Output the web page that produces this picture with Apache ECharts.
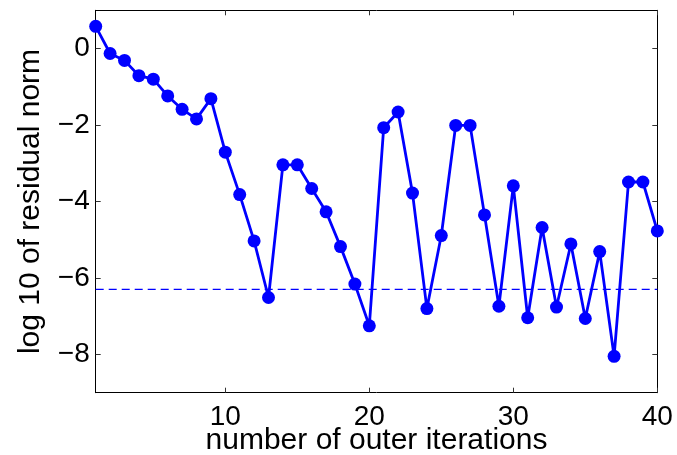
<!DOCTYPE html>
<html>
<head>
<meta charset="utf-8">
<script src="https://cdn.jsdelivr.net/npm/echarts@6/dist/echarts.min.js"></script>
<style>html,body{margin:0;padding:0;background:#fff;}#c{width:677px;height:455px;}</style>
</head>
<body>
<div id="c"></div>
<script>
const iterations = [1,2,3,4,5,6,7,8,9,10,11,12,13,14,15,16,17,18,19,20,21,22,23,24,25,26,27,28,29,30,31,32,33,34,35,36,37,38,39,40];
const logResidual = [0.58,-0.13,-0.31,-0.71,-0.80,-1.24,-1.59,-1.84,-1.31,-2.71,-3.82,-5.03,-6.51,-3.04,-3.04,-3.66,-4.27,-5.18,-6.16,-7.25,-2.07,-1.66,-3.78,-6.80,-4.89,-2.01,-2.01,-4.35,-6.74,-3.59,-7.04,-4.68,-6.76,-5.11,-7.06,-5.31,-8.05,-3.49,-3.49,-4.77];
const threshold = -6.3;
const thresholdX = [1, 40];
const xTicks = [10,20,30,40];
const yTicks = [-8,-6,-4,-2,0];
const xName = 'number of outer iterations';
const yName = 'log 10 of residual norm';

const FONT = 'Liberation Sans';
const chart = echarts.init(document.getElementById('c'), null, {renderer:'canvas'});
const lineStyle = {color:'#000', width:1};
const tickStyle = {show:true, inside:true, length:5, lineStyle:{color:'#333', width:1}};
const fmt = v => String(v).replace('-', '\u2212');
chart.setOption({
  animation:false,
  backgroundColor:'#fff',
  grid:{left:95.7, right:19.7, top:10.3, bottom:62.3, containLabel:false, outerBoundsMode:'none'},
  xAxis:[
    {type:'value', min:1, max:40, position:'bottom',
     axisLine:{show:true, onZero:false, lineStyle},
     axisTick:Object.assign({customValues:xTicks}, tickStyle),
     axisLabel:{customValues:xTicks, color:'#000', fontFamily:FONT, fontSize:28, margin:11, formatter:fmt},
     splitLine:{show:false},
     name:xName, nameLocation:'middle', nameGap:33, nameMoveOverlap:false,
     nameTextStyle:{color:'#000', fontFamily:FONT, fontSize:30}},
    {type:'value', min:1, max:40, position:'top',
     axisLine:{show:true, onZero:false, lineStyle},
     axisTick:Object.assign({customValues:xTicks}, tickStyle),
     axisLabel:{show:false}, splitLine:{show:false}}
  ],
  yAxis:[
    {type:'value', min:-9, max:1, position:'left',
     axisLine:{show:true, onZero:false, lineStyle},
     axisTick:Object.assign({customValues:yTicks}, tickStyle),
     axisLabel:{customValues:yTicks, color:'#000', fontFamily:FONT, fontSize:28, margin:6, formatter:fmt},
     splitLine:{show:false},
     name:yName, nameLocation:'middle', nameGap:50, nameMoveOverlap:false,
     nameTextStyle:{color:'#000', fontFamily:FONT, fontSize:30}},
    {type:'value', min:-9, max:1, position:'right',
     axisLine:{show:true, onZero:false, lineStyle},
     axisTick:Object.assign({customValues:yTicks}, tickStyle),
     axisLabel:{show:false}, splitLine:{show:false}}
  ],
  series:[{
    type:'line',
    data:thresholdX.map(x=>[x, threshold]),
    symbol:'none',
    lineStyle:{color:'#0000ff', width:1.2, type:[8,5]},
    silent:true, z:1
  },{
    type:'line',
    data:iterations.map((x,i)=>[x, logResidual[i]]),
    symbol:'circle', symbolSize:13,
    itemStyle:{color:'#0000ff'},
    lineStyle:{color:'#0000ff', width:2.8},
    clip:false, z:2
  }]
});
</script>
</body>
</html>
